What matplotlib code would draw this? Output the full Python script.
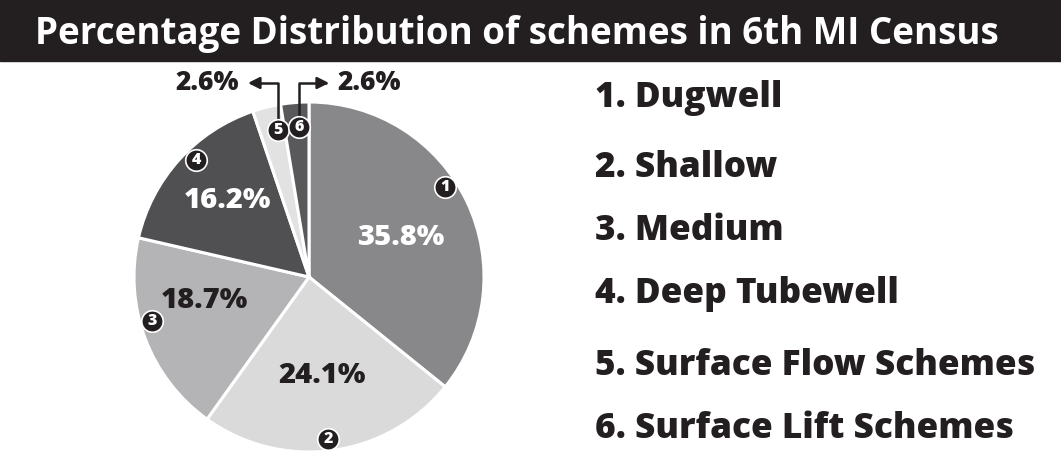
import numpy as np
import matplotlib
matplotlib.use("Agg")
import matplotlib.pyplot as plt
from matplotlib import font_manager

title = "Percentage Distribution of schemes in 6th MI Census"
schemes = ["Dugwell", "Shallow", "Medium", "Deep Tubewell",
           "Surface Flow Schemes", "Surface Lift Schemes"]
shares = [35.8, 24.1, 18.7, 16.2, 2.6, 2.6]

INK = "#231f20"
shades = ["#88888b", "#dadadb", "#b4b4b6", "#505052", "#e2e2e3", "#59595b"]
pct_col = ["white", INK, INK, "white"]
pct_r = [0.57, 0.57, 0.61, 0.64]
pct_shift = [-2, 0, -8, -1]          # degrees off the slice middle
num_r = [0.93, 0.93, 0.93, 0.93, 0.86, 0.86]
num_shift = [8, -1, -5, -4, -2, -1]
legend_base = [107, 177, 240, 303, 375, 438]   # px from top

names = {f.name for f in font_manager.fontManager.ttflist}
body_font = "Open Sans" if "Open Sans" in names else "DejaVu Sans"
title_font = "Liberation Sans Narrow" if "Liberation Sans Narrow" in names else body_font

W, H = 1061, 454
fig = plt.figure(figsize=(W / 100, H / 100), dpi=100)

# title bar
fig.patches.append(plt.Rectangle((0, 1 - 61 / H), 1, 61 / H, transform=fig.transFigure,
                                 color=INK, zorder=0))
tt = fig.text(35 / W, 1 - 44 / H, title, color="white", fontsize=30, fontweight="bold",
              family=title_font, va="baseline", ha="left")
fig.canvas.draw()
w = tt.get_window_extent().width
tt.set_fontsize(30 * 965 / w)

# pie: centre (309, 277) px, radius 175 px
CX, CY, R = 309, 277, 175
ax = fig.add_axes([0, 0, 580 / W, (H - 62) / H])
ax.pie(shares, colors=shades, startangle=90, counterclock=False, radius=1,
       wedgeprops=dict(edgecolor="white", linewidth=2.2))
ax.set_xlim(-CX / R, (580 - CX) / R)
ax.set_ylim((CY - H) / R, (CY - 62) / R)
ax.set_aspect("equal", adjustable="box")
ax.axis("off")

vals = np.array(shares)
cum = np.concatenate([[0], np.cumsum(vals)[:-1]])
mid = 90 - 3.6 * (cum + vals / 2)

for i in range(4):
    a = np.radians(mid[i] + pct_shift[i])
    ax.text(pct_r[i] * np.cos(a), pct_r[i] * np.sin(a), "%.1f%%" % shares[i],
            ha="center", va="center", fontsize=21, fontweight="heavy", family=body_font,
            color=pct_col[i])

nx, ny = [], []
for i in range(6):
    a = np.radians(mid[i] + num_shift[i])
    nx.append(num_r[i] * np.cos(a))
    ny.append(num_r[i] * np.sin(a))
ax.scatter(nx, ny, s=240, c=INK, edgecolors="white", linewidths=1.2, zorder=5)
for i in range(6):
    ax.text(nx[i], ny[i], str(i + 1), ha="center", va="center", fontsize=11.5,
            fontweight="heavy", family=body_font, color="white", zorder=6)

# small slices: elbow arrows out to the labels
rise = (CY - 83) / R
for i, side in [(4, -1), (5, 1)]:
    tip = nx[i] + side * 0.17
    ax.annotate("", xy=(tip, rise), xytext=(nx[i], ny[i] + 0.05),
                arrowprops=dict(arrowstyle="-|>,head_length=0.7,head_width=0.35",
                                color=INK, lw=1.8, shrinkA=0, shrinkB=0,
                                connectionstyle="angle,angleA=90,angleB=0,rad=0"),
                annotation_clip=False)
    ax.text(tip + side * 0.05, rise, "%.1f%%" % shares[i], ha="left" if side > 0 else "right",
            va="center", fontsize=19, fontweight="heavy", family=body_font, color=INK)

for i, (name, yb) in enumerate(zip(schemes, legend_base)):
    fig.text(595 / W, 1 - yb / H, "%d. %s" % (i + 1, name), ha="left", va="baseline",
             fontsize=25.3, fontweight="heavy", family=body_font, color=INK)

fig.savefig("out.png", dpi=100)
